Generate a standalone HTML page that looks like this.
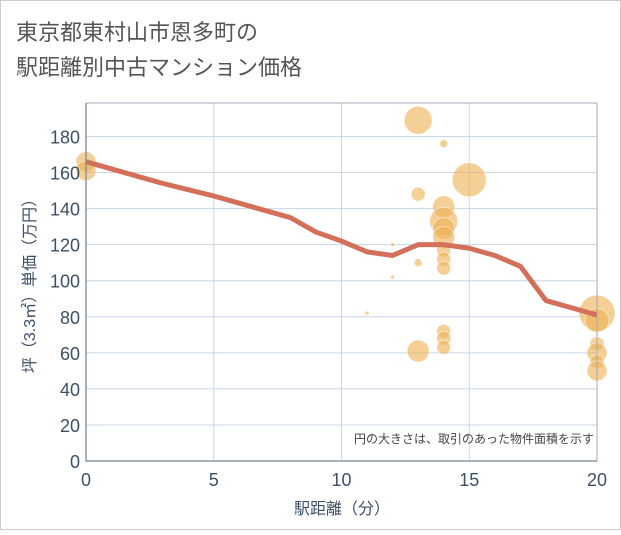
<!DOCTYPE html>
<html><head><meta charset="utf-8"><style>
body{margin:0;background:#fff}
svg text{font-family:"Liberation Sans","Noto Sans CJK JP",sans-serif}
</style></head><body>
<svg width="621" height="530">
<rect x="0.5" y="0.5" width="620" height="529" fill="#fff" stroke="#ccc"/>
<text x="16" y="40" font-size="22" fill="#555">東京都東村山市恩多町の</text>
<text x="16" y="75" font-size="22" fill="#555">駅距離別中古マンション価格</text>
<g id="grid"></g>
<g id="bubbles"></g>
<path id="trend" fill="none" stroke="#d4705a" stroke-width="5" stroke-linejoin="round"/>
<g id="axes"></g>
<text x="594" y="443" font-size="12" fill="#444" text-anchor="end">円の大きさは、取引のあった物件面積を示す</text>
<text x="342" y="514" font-size="16" fill="#3d5066" text-anchor="middle">駅距離（分）</text>
<text transform="translate(35,282) rotate(-90)" font-size="16" fill="#3d5066" text-anchor="middle">坪（3.3㎡）単価（万円）</text>
</svg>
<script>
const xTicks=[0,5,10,15,20];
const yTicks=[0,20,40,60,80,100,120,140,160,180];
const bx=[0,0,13,14,15,13,14,14,14,14,14,14,14,12,12,11,13,14,14,14,13,20,20,20,20,20,20];
const by=[166,161,189,176,156,148,141,133,129,124,117,112,107,120,102,82,110,72,68,63,61,82,78,65,60,55,50];
const br=[10,10,14,4,17,7,11,14,11,11,7,7,7,2,2,2,4,7,7,7,11,18,12,7,10,7,10];
const lx=[0,1,2,3,4,5,6,7,8,9,10,11,12,13,14,15,16,17,18,19,20];
const lv=[166,162,158,154,150.5,147,143,139,135,127,122,116,114,120,120,118,114,108,89,85,81];
const L=86,R=597,T=103,B=461;
const X=v=>L+v*(R-L)/20, Y=v=>B-v*(B-136.5)/180;
const NS="http://www.w3.org/2000/svg";
function mk(t,a,p){const e=document.createElementNS(NS,t);for(const k in a)e.setAttribute(k,a[k]);p.appendChild(e);return e;}
const g=document.getElementById('grid'),ax=document.getElementById('axes'),bb=document.getElementById('bubbles');
yTicks.forEach(v=>{if(v>0){const l=mk('line',{x1:L,x2:R,y1:Y(v),y2:Y(v),stroke:'#c8d6e6','stroke-width':1},g);}
 const t=mk('text',{x:L-6,y:Y(v)+7,'font-size':18,fill:'#3d5066','text-anchor':'end'},ax);t.textContent=v;});
xTicks.forEach(v=>{if(v>0){const l=mk('line',{x1:X(v),x2:X(v),y1:T,y2:B,stroke:'#c8d6e6','stroke-width':1},g);}
 const t=mk('text',{x:X(v),y:B+25,'font-size':18,fill:'#3d5066','text-anchor':'middle'},ax);t.textContent=v;});
const fr=mk('path',{d:`M${L} ${T}H${R}V${B}`,fill:'none',stroke:'#aab','stroke-width':1},ax);
const a1=mk('path',{d:`M${L} ${T}V${B}H${R}`,fill:'none',stroke:'#8a96a3','stroke-width':1.5},ax);
bx.forEach((v,i)=>{const c=mk('circle',{cx:X(v),cy:Y(by[i]),r:br[i],fill:'rgba(238,178,85,0.62)',stroke:'rgba(255,255,255,0.5)','stroke-width':1},bb);});
document.getElementById('trend').setAttribute('d',lx.map((v,i)=>(i?'L':'M')+X(v)+' '+Y(lv[i])).join(''));
</script>
</body></html>
